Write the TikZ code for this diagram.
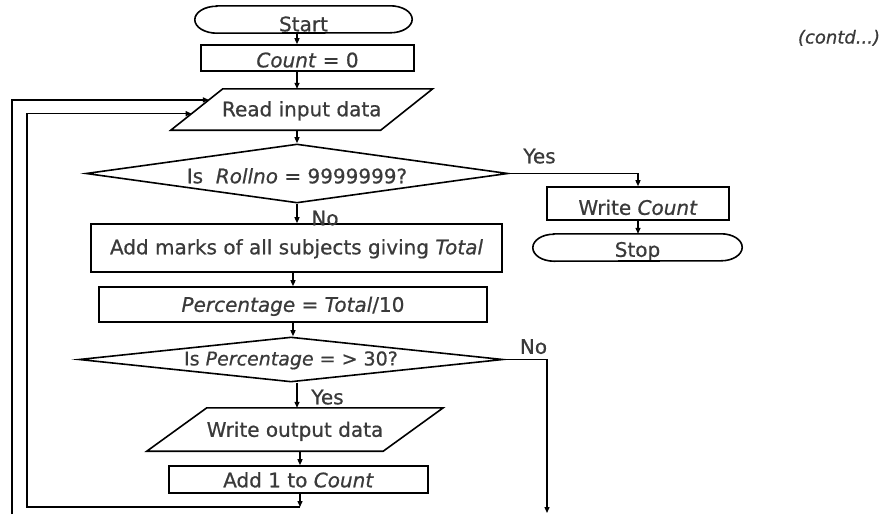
\documentclass[tikz,border=0pt]{standalone}
\usepackage{fontspec}
\setmainfont{DejaVu Sans}[FakeBold=0.7]
\usetikzlibrary{shapes.geometric,arrows.meta,calc}
\definecolor{txt}{RGB}{58,58,58}
\begin{document}
\begin{tikzpicture}[x=1pt,y=-1pt,
  bt/.style={font=\fontsize{20}{24}\selectfont, text=txt, inner sep=0pt, text depth=0pt},
  th/.style={text height=#1},
  box/.style={bt, draw, line width=1.6pt, rectangle},
  bare/.style={bt, rectangle},
  dia/.style={bt, draw, line width=1.6pt, diamond, aspect=8},
  outl/.style={draw, line width=1.6pt, line join=miter},
  arr/.style={line width=1.3pt, -{Triangle[length=6pt,width=5pt]}},
  lbl/.style={bt, text height=14.6pt}]

\useasboundingbox (0,0) rectangle (883,514);

% nodes
\node[bare, minimum width=217pt, minimum height=27pt, th=23.6pt] (start) at (303.5,19.5) {Start};
\draw[outl] ([xshift=22pt]start.north west) -- ([xshift=-22pt]start.north east)
  arc[start angle=90,end angle=-90,x radius=22pt,y radius=13.5pt]
  -- ([xshift=22pt]start.south west)
  arc[start angle=270,end angle=90,x radius=22pt,y radius=13.5pt] -- cycle;

\node[box, minimum width=213pt, minimum height=26pt, th=18.6pt] (count) at (307.5,58) {\textit{Count} = 0};

\node[bare, minimum width=209.5pt, minimum height=41pt, th=13.6pt] (read) at (301.75,109.5) {Read input data};
\draw[outl] ([xshift=26pt]read.north west) -- ([xshift=26pt]read.north east)
  -- ([xshift=-26pt]read.south east) -- ([xshift=-26pt]read.south west) -- cycle;

\node[dia, minimum width=422pt, minimum height=59pt, th=19.6pt] (d1) at (297,173.5) {Is\ \ \textit{Rollno} = 9999999?};

\node[box, minimum width=411pt, minimum height=48pt, th=12.6pt] (addm) at (296.5,248) {Add marks of all subjects giving \textit{Total}};

\node[box, minimum width=388pt, minimum height=35pt, th=14.6pt] (pct) at (293,304.5) {\textit{Percentage} = \textit{Total}/10};

\node[dia, minimum width=424pt, minimum height=45pt, th=11.85pt, font=\fontsize{19}{23}\selectfont] (d2) at (291,359.5) {Is \textit{Percentage} = > 30?};

\node[bare, minimum width=236pt, minimum height=43pt, th=14.6pt] (wout) at (295,429.5) {Write output data};
\draw[outl] ([xshift=30pt]wout.north west) -- ([xshift=30pt]wout.north east)
  -- ([xshift=-30pt]wout.south east) -- ([xshift=-30pt]wout.south west) -- cycle;

\node[box, minimum width=259pt, minimum height=27pt, th=15.6pt] (add1) at (298.5,479.5) {Add 1 to \textit{Count}};

\node[box, minimum width=182pt, minimum height=33pt, th=22.6pt] (wc) at (638,203.5) {Write \textit{Count}};

\node[bare, minimum width=209pt, minimum height=27pt, th=18.6pt] (stop) at (637.5,247.5) {Stop};
\draw[outl] ([xshift=21pt]stop.north west) -- ([xshift=-21pt]stop.north east)
  arc[start angle=90,end angle=-90,x radius=21pt,y radius=13.5pt]
  -- ([xshift=21pt]stop.south west)
  arc[start angle=270,end angle=90,x radius=21pt,y radius=13.5pt] -- cycle;

% labels
\node[lbl] (no1) at (325,218) {No};
\node[lbl] (yes1) at (539.5,156) {Yes};
\node[lbl] (no2) at (533.5,346.5) {No};
\node[lbl] (yes2) at (327.5,397) {Yes};
\node[bt, font=\fontsize{18}{22}\selectfont\itshape, anchor=base] (contd) at (839,43.5) {(contd...)};

% helper coordinates
\coordinate (ax) at (297,0);
\coordinate (ax2) at (293,0);
\coordinate (ax3) at (300,0);
\coordinate (j) at (300,507);
\coordinate (jl) at (27,507);
\coordinate (oin) at (12,514);
\coordinate (nend) at (547,513);
\coordinate (rdo) at ($([xshift=-26pt]read.south west)!0.732!([xshift=26pt]read.north west)$);
\coordinate (rdi) at ($([xshift=-26pt]read.south west)!0.40!([xshift=26pt]read.north west)$);

% connectors
\draw[arr] (start.south -| ax) -- (count.north -| ax);
\draw[arr] (count.south -| ax) -- (read.north -| ax);
\draw[arr] (read.south -| ax) -- (d1.north);
\draw[arr] (d1.south) -- (d1.south |- addm.north);
\draw[arr] (addm.south -| ax2) -- (pct.north -| ax2);
\draw[arr] (pct.south -| ax2) -- (d2.north -| ax2);
\draw[arr] (d2.south -| ax) -- (wout.north -| ax);
\draw[arr] (wout.south -| ax3) -- (add1.north -| ax3);
\draw[arr] (add1.south -| ax3) -- (j);
\draw[arr] (j) -- (jl) |- (rdi);
\draw[arr] (oin) |- (rdo);
\draw[arr] (d1.east) -| (wc.north);
\draw[arr] (wc.south) -- (wc.south |- stop.north);
\draw[arr] (d2.east) -| (nend);
\end{tikzpicture}
\end{document}
